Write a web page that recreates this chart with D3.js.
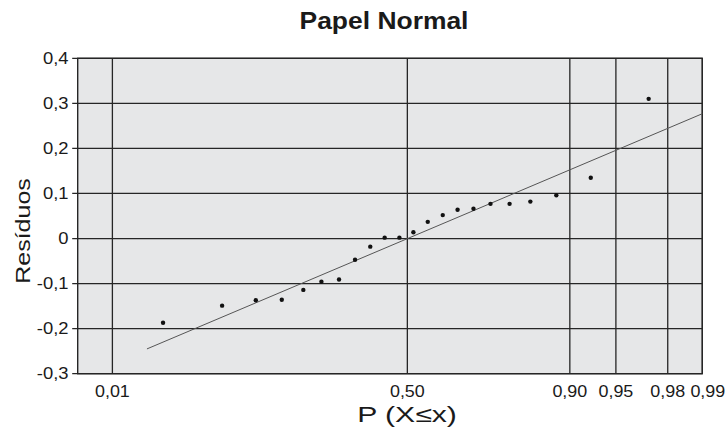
<!DOCTYPE html>
<html>
<head>
<meta charset="utf-8">
<script src="https://cdn.jsdelivr.net/npm/d3@7"></script>
<style>
  html, body { margin: 0; padding: 0; background: #ffffff; }
  svg { display: block; }
  text { font-family: "Liberation Sans", Arial, sans-serif; fill: #1a1a1a; }
</style>
</head>
<body>
<svg id="chart" width="728" height="431"></svg>
<script>
// ---- data ----
const title = "Papel Normal";
const xTitle = "P (X\u2264x)";
const yTitle = "Resíduos";
// plotting positions (cumulative probability) of the ordered residuals
const probs = [0.027, 0.072, 0.116, 0.161, 0.206, 0.249, 0.295, 0.340, 0.385, 0.429, 0.475,
               0.519, 0.564, 0.610, 0.654, 0.699, 0.744, 0.790, 0.834, 0.880, 0.926, 0.9715];
const residuals = [-0.187, -0.149, -0.137, -0.136, -0.114, -0.096, -0.091, -0.047, -0.018, 0.002, 0.002,
                   0.014, 0.037, 0.052, 0.064, 0.066, 0.077, 0.077, 0.082, 0.096, 0.135, 0.310];
// reference line endpoints
const lineProbs = [0.02, 0.99];
const lineResiduals = [-0.245, 0.277];
// tick labels
const xTickProbs = [0.01, 0.50, 0.90, 0.95, 0.98, 0.99];
const xTickLabels = ["0,01", "0,50", "0,90", "0,95", "0,98", "0,99"];
const yTickValues = [-0.3, -0.2, -0.1, 0, 0.1, 0.2, 0.3, 0.4];
const yTickLabels = ["-0,3", "-0,2", "-0,1", "0", "0,1", "0,2", "0,3", "0,4"];

// inverse standard normal CDF (Acklam)
function probit(p) {
  const a = [-3.969683028665376e+01, 2.209460984245205e+02, -2.759285104469687e+02, 1.383577518672690e+02, -3.066479806614716e+01, 2.506628277459239e+00];
  const b = [-5.447609879822406e+01, 1.615858368580409e+02, -1.556989798598866e+02, 6.680131188771972e+01, -1.328068155288572e+01];
  const c = [-7.784894002430293e-03, -3.223964580411365e-01, -2.400758277161838e+00, -2.549732539343734e+00, 4.374664141464968e+00, 2.938163982698783e+00];
  const d = [7.784695709041462e-03, 3.224671290700398e-01, 2.445134137142996e+00, 3.754408661907416e+00];
  const pl = 0.02425, ph = 1 - pl;
  let q, r;
  if (p < pl) {
    q = Math.sqrt(-2 * Math.log(p));
    return (((((c[0]*q+c[1])*q+c[2])*q+c[3])*q+c[4])*q+c[5]) / ((((d[0]*q+d[1])*q+d[2])*q+d[3])*q+1);
  } else if (p <= ph) {
    q = p - 0.5; r = q * q;
    return (((((a[0]*r+a[1])*r+a[2])*r+a[3])*r+a[4])*r+a[5])*q / (((((b[0]*r+b[1])*r+b[2])*r+b[3])*r+b[4])*r+1);
  } else {
    q = Math.sqrt(-2 * Math.log(1 - p));
    return -(((((c[0]*q+c[1])*q+c[2])*q+c[3])*q+c[4])*q+c[5]) / ((((d[0]*q+d[1])*q+d[2])*q+d[3])*q+1);
  }
}

// ---- layout ----
const pLeft = 77.7, pRight = 702.3, pTop = 58.3, pBottom = 373.7;
const SX = 1.15; // horizontal stretch of the reference lettering

const svg = d3.select("#chart");
const zScale = d3.scaleLinear().domain([-2.6, probit(0.99)]).range([pLeft, pRight]);
const x = p => zScale(probit(p));
const y = d3.scaleLinear().domain([-0.3, 0.4]).range([pBottom, pTop]);

// plot background
svg.append("rect")
  .attr("x", pLeft).attr("y", pTop)
  .attr("width", pRight - pLeft).attr("height", pBottom - pTop)
  .attr("fill", "#e6e7e8");

// grid lines
const gridColor = "#262626";
svg.append("g").selectAll("line").data(yTickValues).join("line")
  .attr("x1", pLeft - 5.5).attr("x2", pRight)
  .attr("y1", d => y(d)).attr("y2", d => y(d))
  .attr("stroke", gridColor).attr("stroke-width", 1.3);
svg.append("g").selectAll("line").data(xTickProbs).join("line")
  .attr("x1", d => x(d)).attr("x2", d => x(d))
  .attr("y1", pTop).attr("y2", pBottom)
  .attr("stroke", gridColor).attr("stroke-width", 1.3);

// frame
svg.append("rect")
  .attr("x", pLeft).attr("y", pTop)
  .attr("width", pRight - pLeft).attr("height", pBottom - pTop)
  .attr("fill", "none").attr("stroke", gridColor).attr("stroke-width", 1.4);

// y axis labels
svg.append("g").selectAll("text").data(yTickValues).join("text")
  .attr("text-anchor", "end")
  .attr("transform", d => `translate(68.5,${y(d) + 5.5}) scale(${SX},1)`)
  .attr("font-size", 16)
  .text((d, i) => yTickLabels[i]);

// x axis labels
svg.append("g").selectAll("text").data(xTickProbs).join("text")
  .attr("text-anchor", "middle")
  .attr("transform", (d, i) => `translate(${x(d) + (i === xTickProbs.length - 1 ? 5.5 : 0)},397) scale(1.12,1)`)
  .attr("font-size", 16)
  .text((d, i) => xTickLabels[i]);

// reference line
svg.append("line")
  .attr("x1", x(lineProbs[0])).attr("y1", y(lineResiduals[0]))
  .attr("x2", x(lineProbs[1])).attr("y2", y(lineResiduals[1]))
  .attr("stroke", "#555").attr("stroke-width", 1);

// points
svg.append("g").selectAll("circle").data(probs).join("circle")
  .attr("cx", d => x(d))
  .attr("cy", (d, i) => y(residuals[i]))
  .attr("r", 2.2)
  .attr("fill", "#111");

// titles
svg.append("text")
  .attr("transform", `translate(384,29) scale(${SX},1)`)
  .attr("text-anchor", "middle")
  .attr("font-size", 23).attr("font-weight", "bold")
  .text(title);

svg.append("text")
  .attr("transform", `translate(407,422) scale(1.37,1)`)
  .attr("text-anchor", "middle")
  .attr("font-size", 22)
  .text(xTitle);

svg.append("text")
  .attr("transform", `translate(30,231) rotate(-90) scale(1.25,1)`)
  .attr("text-anchor", "middle")
  .attr("font-size", 20)
  .text(yTitle);
</script>
</body>
</html>
